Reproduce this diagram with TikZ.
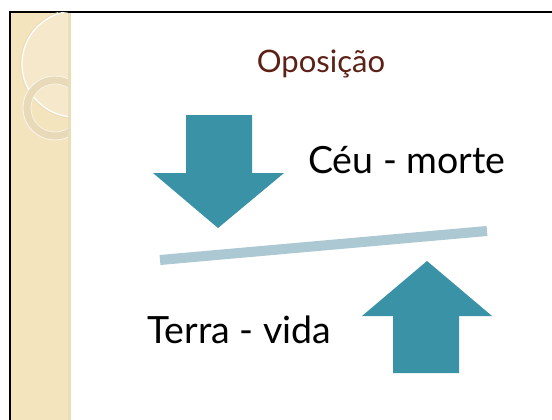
\documentclass[tikz,border=0pt]{standalone}
\usepackage{fontspec}
\setmainfont{Lato}
\usetikzlibrary{positioning}

\definecolor{stripbeige}{RGB}{244,228,190}
\definecolor{ringbeige}{RGB}{232,218,184}
\definecolor{arrowteal}{RGB}{58,146,166}
\definecolor{barblue}{RGB}{171,200,211}
\definecolor{titlebrown}{RGB}{92,32,22}

\begin{document}
\begin{tikzpicture}[
    x=1pt, y=-1pt,
    bigword/.style={font=\fontsize{37.5}{37.5}\selectfont, inner sep=0pt, anchor=base west},
    titleword/.style={font=\fontsize{31}{31}\selectfont, inner sep=0pt, anchor=base, color=titlebrown},
    blockarrow/.style={fill=arrowteal, draw=none},
    balance/.style={draw=barblue, line width=10pt}
]
\useasboundingbox (0,0) rectangle (552,420);

% Slide frame and side strip
\fill[white] (0,0) rectangle (552,420);
\fill[stripbeige] (11,13) rectangle (71,420);
\fill[ringbeige!70!stripbeige] (68,13) rectangle (71,420);
\draw[line width=2.5pt] (10,420) -- (10,12) -- (552,12);

% Decorative rings on the strip
\begin{scope}
\clip (11,13) rectangle (68,420);
\fill[white, opacity=0.2] (75,64) circle (53);
\draw[white, line width=1.2pt] (75,64) circle (53);
\draw[ringbeige, line width=0.5pt] (75,64) circle (54.5);
\draw[ringbeige, line width=7pt] (55,108) circle (28);
\draw[white!70!ringbeige, line width=0.8pt] (55,108) circle (32);
\draw[white!70!ringbeige, line width=0.6pt] (55,108) circle (24);
\end{scope}

% Title
\node[titleword] (title) at (321,73) {Oposição};

% Down arrow
\fill[blockarrow] (186,115) -- (252,115) -- (252,173) -- (284,173)
    -- (218,228) -- (153,173) -- (186,173) -- cycle;

% Tilted bar
\coordinate (barleft) at (160,260);
\coordinate (barright) at (487,231);
\draw[balance] (barleft) -- (barright);

% Up arrow
\fill[blockarrow] (427,261) -- (492,316) -- (459,316) -- (459,373)
    -- (393,373) -- (393,316) -- (362,316) -- cycle;

% Labels
\node[bigword] (sky) at (308,173) {Céu - morte};
\node[bigword] (earth) at (147,343) {Terra - vida};

\end{tikzpicture}
\end{document}
